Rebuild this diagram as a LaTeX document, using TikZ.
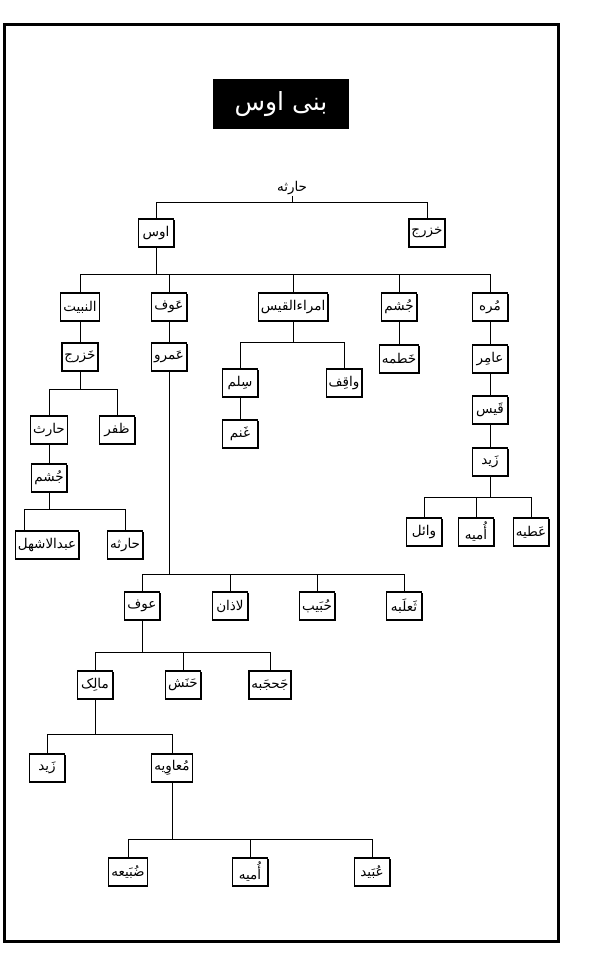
\documentclass[tikz,border=0pt]{standalone}
\usepackage{fontspec}
\usetikzlibrary{shadows}
\newfontfamily\urdufont[Script=Arabic]{DejaVu Sans}
\TeXXeTstate=1
\newcommand{\urd}[1]{{\urdufont\beginR #1\endR}}

\begin{document}
\begin{tikzpicture}[x=1pt, y=-1pt,
  namebox/.style={draw, line width=1.3pt, fill=white, minimum width=35pt, minimum height=28pt,
    inner xsep=2.5pt, inner ysep=2pt, font=\fontsize{13.5}{15}\selectfont,
    drop shadow={shadow xshift=1pt, shadow yshift=-1pt, opacity=1, fill=black}},
  titlebox/.style={fill=black, text=white, minimum width=136pt, minimum height=50pt, font=\fontsize{25}{29}\selectfont},
  link/.style={line width=1pt}]

\useasboundingbox (0,0) rectangle (600,957);
\draw[line width=3pt] (4,25) rectangle (558,941);

\node[titlebox] (title) at (281,104) {\urd{بنی اوس}};

\node[font=\fontsize{13.5}{15}\selectfont, inner sep=1pt] (haritha) at (292,188) {\urd{حارثه}};

\node[namebox] (aws) at (156,233) {\urd{اوس}};
\node[namebox] (khazraj) at (427,233) {\urd{خزرج}};

\node[namebox] (nabit) at (80,307) {\urd{النبیت}};
\node[namebox] (awf) at (169,307) {\urd{عَوف}};
\node[namebox] (imrau) at (293,307) {\urd{امراءالقیس}};
\node[namebox] (jusham) at (399,307) {\urd{جُشم}};
\node[namebox] (murra) at (490,307) {\urd{مُره}};

\node[namebox] (khazrajB) at (80,357) {\urd{خَزرج}};
\node[namebox] (amr) at (169,357) {\urd{عَمرو}};
\node[namebox] (khatma) at (399,359) {\urd{خَطمه}};
\node[namebox] (amir) at (490,359) {\urd{عامِر}};

\node[namebox] (harith) at (49,430) {\urd{حارث}};
\node[namebox] (zafar) at (117,430) {\urd{ظفر}};
\node[namebox] (salm) at (240,383) {\urd{سِلم}};
\node[namebox] (waqif) at (344,383) {\urd{واقِف}};
\node[namebox] (qais) at (490,410) {\urd{قَیس}};

\node[namebox] (jushamB) at (49,478) {\urd{جُشم}};
\node[namebox] (ghanm) at (240,434) {\urd{غَنم}};
\node[namebox] (zaid) at (490,462) {\urd{زَید}};

\node[namebox] (ashhal) at (47,545) {\urd{عبدالاشهل}};
\node[namebox] (harithaB) at (125,545) {\urd{حارثه}};
\node[namebox] (wail) at (424,532) {\urd{وائل}};
\node[namebox] (umayya) at (476,532) {\urd{أُمیه}};
\node[namebox] (atiyya) at (531,532) {\urd{عَطیه}};

\node[namebox] (awfB) at (142,606) {\urd{عوف}};
\node[namebox] (ladhan) at (230,606) {\urd{لاذان}};
\node[namebox] (hubaib) at (317,606) {\urd{حُبَیب}};
\node[namebox] (thalaba) at (404,606) {\urd{ثَعلَبه}};

\node[namebox] (malik) at (95,685) {\urd{مالِک}};
\node[namebox] (hanash) at (183,685) {\urd{حَنَش}};
\node[namebox] (jahjaba) at (270,685) {\urd{جَحجَبه}};

\node[namebox] (zaidB) at (47,768) {\urd{زَید}};
\node[namebox] (muawiya) at (172,768) {\urd{مُعاوِیه}};

\node[namebox] (dubaia) at (128,872) {\urd{ضُبَیعه}};
\node[namebox] (umayyaB) at (250,872) {\urd{أُمیه}};
\node[namebox] (ubaid) at (372,872) {\urd{عُبَید}};

% junctions of the family bars
\coordinate (harithaJ) at (292,203);
\coordinate (awsJ) at (156,275);
\coordinate (khazrajBJ) at (80,389);
\coordinate (jushamBJ) at (49,509);
\coordinate (imrauJ) at (293,342);
\coordinate (zaidJ) at (490,497);
\coordinate (amrJ) at (169,574);
\coordinate (awfBJ) at (142,652);
\coordinate (malikJ) at (95,734);
\coordinate (muawiyaJ) at (172,839);

\draw[link] (haritha) -- (harithaJ);
\draw[link] (harithaJ) -| (aws);
\draw[link] (harithaJ) -| (khazraj);

\draw[link] (aws) -- (awsJ);
\draw[link] (awsJ) -| (nabit);
\draw[link] (awsJ) -| (awf);
\draw[link] (awsJ) -| (imrau);
\draw[link] (awsJ) -| (jusham);
\draw[link] (awsJ) -| (murra);

\draw[link] (nabit) -- (khazrajB);
\draw[link] (khazrajB) -- (khazrajBJ);
\draw[link] (khazrajBJ) -| (harith);
\draw[link] (khazrajBJ) -| (zafar);
\draw[link] (harith) -- (jushamB);
\draw[link] (jushamB) -- (jushamBJ);
\draw[link] (jushamBJ) -| ([xshift=-23pt]ashhal.north);
\draw[link] (jushamBJ) -| (harithaB);

\draw[link] (imrau) -- (imrauJ);
\draw[link] (imrauJ) -| (salm);
\draw[link] (imrauJ) -| (waqif);
\draw[link] (salm) -- (ghanm);

\draw[link] (jusham) -- (khatma);

\draw[link] (murra) -- (amir);
\draw[link] (amir) -- (qais);
\draw[link] (qais) -- (zaid);
\draw[link] (zaid) -- (zaidJ);
\draw[link] (zaidJ) -| (wail);
\draw[link] (zaidJ) -| (umayya);
\draw[link] (zaidJ) -| (atiyya);

\draw[link] (awf) -- (amr);
\draw[link] (amr) -- (amrJ);
\draw[link] (amrJ) -| (awfB);
\draw[link] (amrJ) -| (ladhan);
\draw[link] (amrJ) -| (hubaib);
\draw[link] (amrJ) -| (thalaba);

\draw[link] (awfB) -- (awfBJ);
\draw[link] (awfBJ) -| (malik);
\draw[link] (awfBJ) -| (hanash);
\draw[link] (awfBJ) -| (jahjaba);

\draw[link] (malik) -- (malikJ);
\draw[link] (malikJ) -| (zaidB);
\draw[link] (malikJ) -| (muawiya);

\draw[link] (muawiya) -- (muawiyaJ);
\draw[link] (muawiyaJ) -| (dubaia);
\draw[link] (muawiyaJ) -| (umayyaB);
\draw[link] (muawiyaJ) -| (ubaid);

\end{tikzpicture}
\end{document}
